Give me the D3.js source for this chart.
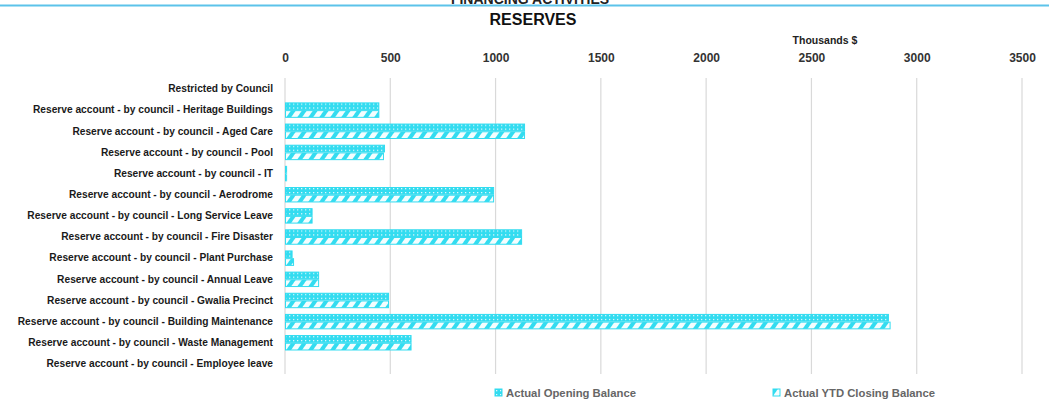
<!DOCTYPE html>
<html>
<head>
<meta charset="utf-8">
<script src="https://cdn.jsdelivr.net/npm/d3@7"></script>
<style>
  body { margin: 0; background: #fff; }
  text { font-family: "Liberation Sans", Arial, sans-serif; }
</style>
</head>
<body>
<div id="chart"></div>
<script>
// reserves by account, thousands $
var categories = [
  "Restricted by Council",
  "Reserve account - by council - Heritage Buildings",
  "Reserve account - by council - Aged Care",
  "Reserve account - by council - Pool",
  "Reserve account - by council - IT",
  "Reserve account - by council - Aerodrome",
  "Reserve account - by council - Long Service Leave",
  "Reserve account - by council - Fire Disaster",
  "Reserve account - by council - Plant Purchase",
  "Reserve account - by council - Annual Leave",
  "Reserve account - by council - Gwalia Precinct",
  "Reserve account - by council - Building Maintenance",
  "Reserve account - by council - Waste Management",
  "Reserve account - by council - Employee leave"
];
var openingBalance = [0, 448, 1140, 475, 10, 993, 131, 1126, 36, 162, 494, 2868, 601, 0];
var closingBalance = [0, 448, 1140, 470, 10, 993, 131, 1126, 43, 162, 494, 2876, 601, 0];
var seriesNames = ["Actual Opening Balance", "Actual YTD Closing Balance"];
var xTicks = [0, 500, 1000, 1500, 2000, 2500, 3000, 3500];

var w = 1049, h = 401,
    cyan = "#33dcf0";

var svg = d3.select("#chart").append("svg")
    .attr("width", w)
    .attr("height", h);

var defs = svg.append("defs");

// dotted grid fill for opening balance
var dots = defs.append("pattern")
    .attr("id", "dots")
    .attr("patternUnits", "userSpaceOnUse")
    .attr("width", 4).attr("height", 4);
dots.append("rect").attr("width", 4).attr("height", 4).attr("fill", cyan);
dots.append("rect").attr("x", 1).attr("y", 1).attr("width", 1.3).attr("height", 1.3).attr("fill", "#dff8fc");

// wide diagonal stripes for closing balance
var stripes = defs.append("pattern")
    .attr("id", "stripes")
    .attr("patternUnits", "userSpaceOnUse")
    .attr("width", 9).attr("height", 9)
    .attr("patternTransform", "rotate(35)");
stripes.append("rect").attr("width", 9).attr("height", 9).attr("fill", "#f4fdfe");
stripes.append("rect").attr("width", 4).attr("height", 9).attr("fill", cyan);

// top heading, cut off by the page edge as in the source
svg.append("text")
    .attr("x", 530).attr("y", 4)
    .attr("text-anchor", "middle")
    .attr("font-weight", "bold")
    .attr("font-size", 14)
    .attr("fill", "#222")
    .text("FINANCING ACTIVITIES");
svg.append("line")
    .attr("x1", 0).attr("x2", w)
    .attr("y1", 5.5).attr("y2", 5.5)
    .attr("stroke", "#5cc3ea")
    .attr("stroke-width", 2);

svg.append("text")
    .attr("x", 533).attr("y", 25)
    .attr("text-anchor", "middle")
    .attr("font-weight", "bold")
    .attr("font-size", 16)
    .attr("fill", "#111")
    .text("RESERVES");

svg.append("text")
    .attr("x", 825).attr("y", 44)
    .attr("text-anchor", "middle")
    .attr("font-weight", "bold")
    .attr("font-size", 10.5)
    .attr("fill", "#222")
    .text("Thousands $");

var x = d3.scaleLinear().domain([0, 3500]).range([285, 1022]);
var y = d3.scaleBand().domain(categories)
    .range([78.4, 374.5])
    .paddingInner(0.27)
    .paddingOuter(0.135);
var ySub = d3.scaleBand().domain([0, 1]).range([0, y.bandwidth()]);

// gridlines
svg.append("g").selectAll("line")
  .data(xTicks)
  .enter()
  .append("line")
    .attr("x1", function(d) { return x(d); })
    .attr("x2", function(d) { return x(d); })
    .attr("y1", 78)
    .attr("y2", 374)
    .attr("stroke", "#d9d9d9")
    .attr("stroke-width", 1.2);

// top axis
var xAxis = svg.append("g")
    .attr("transform", "translate(0,62)")
    .call(d3.axisTop(x).tickValues(xTicks).tickSize(0).tickPadding(0).tickFormat(d3.format("d")));
xAxis.select(".domain").remove();
xAxis.selectAll("text")
    .attr("font-family", "Liberation Sans, Arial, sans-serif")
    .attr("font-weight", "bold")
    .attr("font-size", 12)
    .attr("fill", "#333");

// category axis
var yAxis = svg.append("g")
    .attr("transform", "translate(273,0)")
    .call(d3.axisLeft(y).tickSize(0).tickPadding(0));
yAxis.select(".domain").remove();
yAxis.selectAll("text")
    .attr("font-family", "Liberation Sans, Arial, sans-serif")
    .attr("font-weight", "bold")
    .attr("font-size", 10.2)
    .attr("fill", "#1a1a1a");

// bars
var rows = categories.map(function(c, i) {
  return { cat: c, vals: [openingBalance[i], closingBalance[i]] };
});
var fills = ["url(#dots)", "url(#stripes)"];

svg.append("g").selectAll("g")
  .data(rows)
  .enter()
  .append("g")
    .attr("transform", function(d) { return "translate(0," + y(d.cat) + ")"; })
  .selectAll("rect")
  .data(function(d) { return d.vals.filter(function(v) { return v > 0; }).length ? d.vals : []; })
  .enter()
  .append("rect")
    .attr("x", x(0) + 0.5)
    .attr("y", function(d, i) { return ySub(i) + 0.5; })
    .attr("width", function(d) { return Math.max(0, x(d) - x(0) - 1); })
    .attr("height", ySub.bandwidth() - 1)
    .attr("fill", function(d, i) { return fills[i]; })
    .attr("stroke", cyan)
    .attr("stroke-width", 1);

// legend
var legendX = [495, 773];
var legend = svg.append("g").selectAll("g")
  .data(seriesNames)
  .enter()
  .append("g")
    .attr("transform", function(d, i) { return "translate(" + legendX[i] + ",389)"; });
legend.append("rect")
    .attr("width", 7).attr("height", 7)
    .attr("fill", function(d, i) { return fills[i]; })
    .attr("stroke", cyan);
legend.append("text")
    .attr("x", 11).attr("y", 7.5)
    .attr("font-weight", "bold")
    .attr("font-size", 11.3)
    .attr("fill", "#666")
    .text(function(d) { return d; });
</script>
</body>
</html>
